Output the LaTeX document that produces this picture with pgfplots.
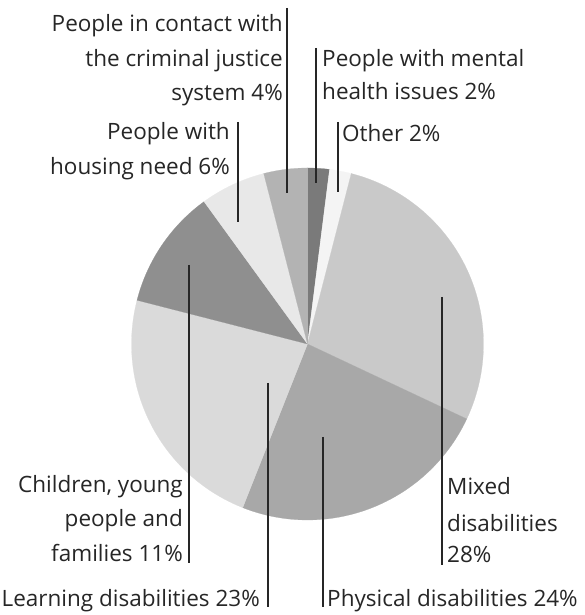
\documentclass[border=0pt]{standalone}
\usepackage{pgfplots}
\pgfplotsset{compat=1.18}
\usepackage{pgfplotstable}
\usepackage{fontspec}
\setmainfont{Open Sans}
\definecolor{cMental}{HTML}{7A7A7A}
\definecolor{cOther}{HTML}{F4F4F4}
\definecolor{cMixed}{HTML}{C9C9C9}
\definecolor{cPhys}{HTML}{A8A8A8}
\definecolor{cLearn}{HTML}{DADADA}
\definecolor{cChild}{HTML}{8F8F8F}
\definecolor{cHouse}{HTML}{E8E8E8}
\definecolor{cCrim}{HTML}{B3B3B3}
\definecolor{txt}{HTML}{262626}
% share of each group, in percent, clockwise from 12 o'clock
\pgfplotstableread{
group      value
Mental     2
Other      2
Mixed      28
Physical   24
Learning   23
Children   11
Housing    6
Criminal   4
}\piedata
\def\cx{307.5}
\def\cy{271}
\def\R{176}
\newcommand\slice[3]{%
  \addplot[fill=#3, draw=#3, line width=0.2pt, domain=#1*3.6:#2*3.6, samples=80, variable=\t]
    ({\cx+\R*sin(\t)},{\cy+\R*cos(\t)}) -- (axis cs:\cx,\cy) -- cycle;}
\newcommand\lead[3]{% x, ytop, ybottom (pixels from top)
  \addplot[txt, line width=1.2pt] coordinates {(#1,615-#2) (#1,615-#3)};}
\begin{document}
\begin{tikzpicture}
\begin{axis}[
  x=1pt, y=1pt, xmin=0, xmax=584, ymin=0, ymax=615,
  hide axis, clip=false, disabledatascaling,
]
\path (axis cs:0,0) rectangle (axis cs:584,615);
% cumulative percentages: 0,2,4,32,56,79,90,96,100
\slice{0}{2}{cMental}
\slice{2}{4}{cOther}
\slice{4}{32}{cMixed}
\slice{32}{56}{cPhys}
\slice{56}{79}{cLearn}
\slice{79}{90}{cChild}
\slice{90}{96}{cHouse}
\slice{96}{100}{cCrim}
% leader lines
\lead{287}{8}{193}
\lead{238}{122}{222}
\lead{316}{48}{183}
\lead{338}{122}{192}
\lead{442}{297}{565}
\lead{323}{437}{607}
\lead{268}{383}{607}
\lead{189}{265}{563}
\begin{scope}[every node/.style={font=\fontsize{22.5}{27}\selectfont, text=txt, inner sep=0pt}]
\node[anchor=base east] at (axis cs:283,615-32) {People in contact with};
\node[anchor=base east] at (axis cs:283,615-67) {the criminal justice};
\node[anchor=base east] at (axis cs:283,615-101) {system 4\%};
\node[anchor=base east] at (axis cs:230,615-140) {People with};
\node[anchor=base east] at (axis cs:230,615-175) {housing need 6\%};
\node[anchor=base west] at (axis cs:322,615-67) {People with mental};
\node[anchor=base west] at (axis cs:322,615-100) {health issues 2\%};
\node[anchor=base west] at (axis cs:342,615-142) {Other 2\%};
\node[anchor=base west] at (axis cs:447,615-495) {Mixed};
\node[anchor=base west] at (axis cs:447,615-532) {disabilities};
\node[anchor=base west] at (axis cs:447,615-563) {28\%};
\node[anchor=base west] at (axis cs:327,615-606) {Physical disabilities 24\%};
\node[anchor=base east] at (axis cs:260,615-606) {Learning disabilities 23\%};
\node[anchor=base east] at (axis cs:183,615-493) {Children, young};
\node[anchor=base east] at (axis cs:183,615-527) {people and};
\node[anchor=base east] at (axis cs:183,615-562) {families 11\%};
\end{scope}
\end{axis}
\end{tikzpicture}
\end{document}
